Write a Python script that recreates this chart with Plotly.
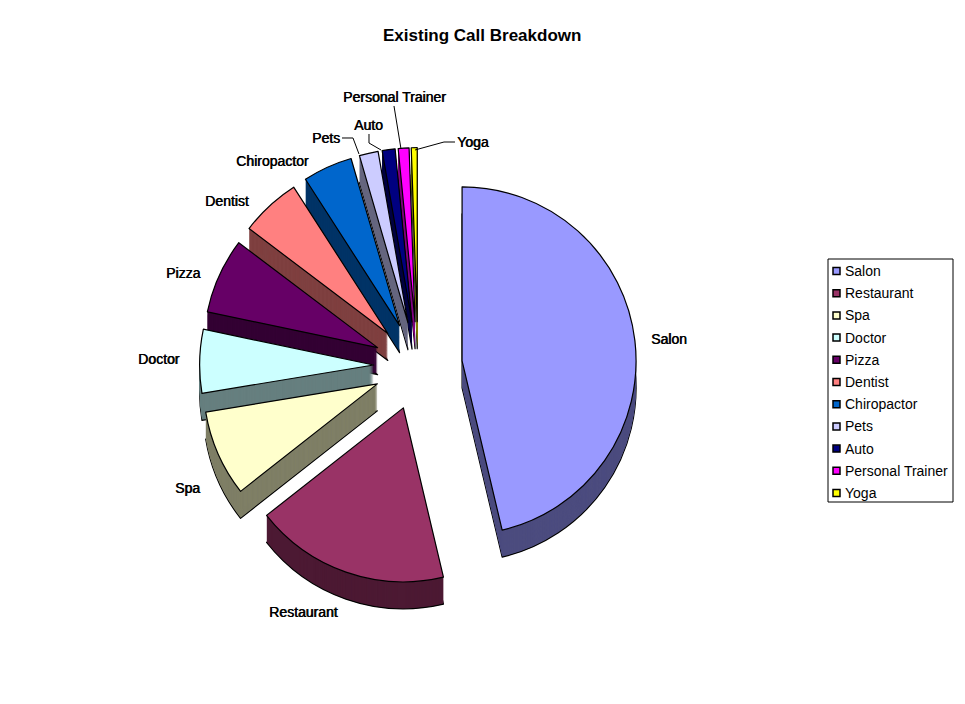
import plotly.graph_objects as go

CATEGORIES = ["Salon", "Restaurant", "Spa", "Doctor", "Pizza", "Dentist",
              "Chiropactor", "Pets", "Auto", "Personal Trainer", "Yoga"]
VALUES = [46.3, 18.1, 8.0, 5.9, 7.0, 5.6, 4.6, 1.75, 1.2, 1.0, 0.55]
COLORS = ["#9999FF", "#993366", "#FFFFCC", "#CCFFFF", "#660066", "#FF8080",
          "#0066CC", "#CCCCFF", "#000080", "#FF00FF", "#FFFF00"]
SIDE_COLORS = ["#4C4C7F", "#4C1933", "#7F7F66", "#667F7F", "#330033", "#7F4040",
               "#003366", "#66667F", "#000040", "#7F007F", "#7F7F00"]

# The page body has an 8px margin, so the figure spans 8..965 x 8..704 of the window.
MARGIN = 8
W, H = 965 - MARGIN, 704 - MARGIN
CX, CY = 418, 366      # pie centre, window pixels
RADIUS = 174
PULL = 0.255
DEPTH = 27
FONT = "Liberation Sans"
SMEAR = "0.6px 0 0 black"

half = RADIUS * (1 + PULL)


def px(x):
    return (x - MARGIN) / W


def py(y):
    return 1 - (y - MARGIN) / H


def domain(dy):
    return dict(x=[px(CX - half), px(CX + half)],
                y=[py(CY + dy + half), py(CY + dy - half)])


def pie(colors, dy, outline):
    return go.Pie(labels=CATEGORIES, values=VALUES, sort=False, direction="clockwise",
                  rotation=0, pull=PULL, textinfo="none", hoverinfo="label+percent",
                  domain=domain(dy), showlegend=False,
                  marker=dict(colors=colors, line=dict(color="black", width=outline)))


fig = go.Figure()
fig.add_trace(pie(SIDE_COLORS, DEPTH, 1.2))
for dy in range(DEPTH - 1, 0, -1):
    fig.add_trace(pie(SIDE_COLORS, dy, 0))
fig.add_trace(pie(COLORS, 0, 1.2))

# label text centres, window pixels
LABEL_POS = [(669, 339), (303, 612), (187, 488), (159, 359), (183, 273), (227, 201),
             (272, 161), (326, 138), (368, 125), (394, 97), (473, 142)]
# leader lines, window pixels
LEADERS = [[(342, 138), (353, 138), (359, 154)],
           [(369, 134), (369, 143), (381, 150)],
           [(394, 106), (401, 149)],
           [(455, 142), (444, 142), (415, 150)]]

annotations = [dict(x=px(x), y=py(y), xref="paper", yref="paper", text=name,
                    showarrow=False, xanchor="center", yanchor="middle",
                    font=dict(family=FONT, size=14, color="black", shadow=SMEAR))
               for name, (x, y) in zip(CATEGORIES, LABEL_POS)]
annotations.append(dict(x=px(482), y=py(35), xref="paper", yref="paper",
                        text="<b>Existing Call Breakdown</b>", showarrow=False,
                        xanchor="center", yanchor="middle",
                        font=dict(family=FONT, size=17, color="black")))

shapes = []
for pts in LEADERS:
    path = "M " + " L ".join(f"{px(x):.5f} {py(y):.5f}" for x, y in pts)
    shapes.append(dict(type="path", path=path, xref="paper", yref="paper",
                       line=dict(color="black", width=1)))

# legend box
LEG_LEFT, LEG_TOP, LEG_RIGHT, LEG_BOTTOM = 828, 259, 953, 502
LEG_FIRST_Y, LEG_STEP = 271, 22.2
shapes.append(dict(type="rect", xref="paper", yref="paper",
                   x0=px(LEG_LEFT), x1=px(LEG_RIGHT), y0=py(LEG_BOTTOM), y1=py(LEG_TOP),
                   line=dict(color="black", width=1), fillcolor="white"))
for i, (name, color) in enumerate(zip(CATEGORIES, COLORS)):
    y = LEG_FIRST_Y + i * LEG_STEP
    shapes.append(dict(type="rect", xref="paper", yref="paper",
                       x0=px(833), x1=px(840), y0=py(y + 3.5), y1=py(y - 3.5),
                       line=dict(color="black", width=1.5), fillcolor=color))
    annotations.append(dict(x=px(843), y=py(y), xref="paper", yref="paper", text=name,
                            showarrow=False, xanchor="left", yanchor="middle",
                            font=dict(family=FONT, size=14, color="black")))

fig.update_layout(
    width=W, height=H, margin=dict(l=0, r=0, t=0, b=0),
    paper_bgcolor="white", plot_bgcolor="white",
    font=dict(family=FONT, size=14, color="black"),
    annotations=annotations, shapes=shapes, showlegend=False,
)
fig.write_html("out.html")
